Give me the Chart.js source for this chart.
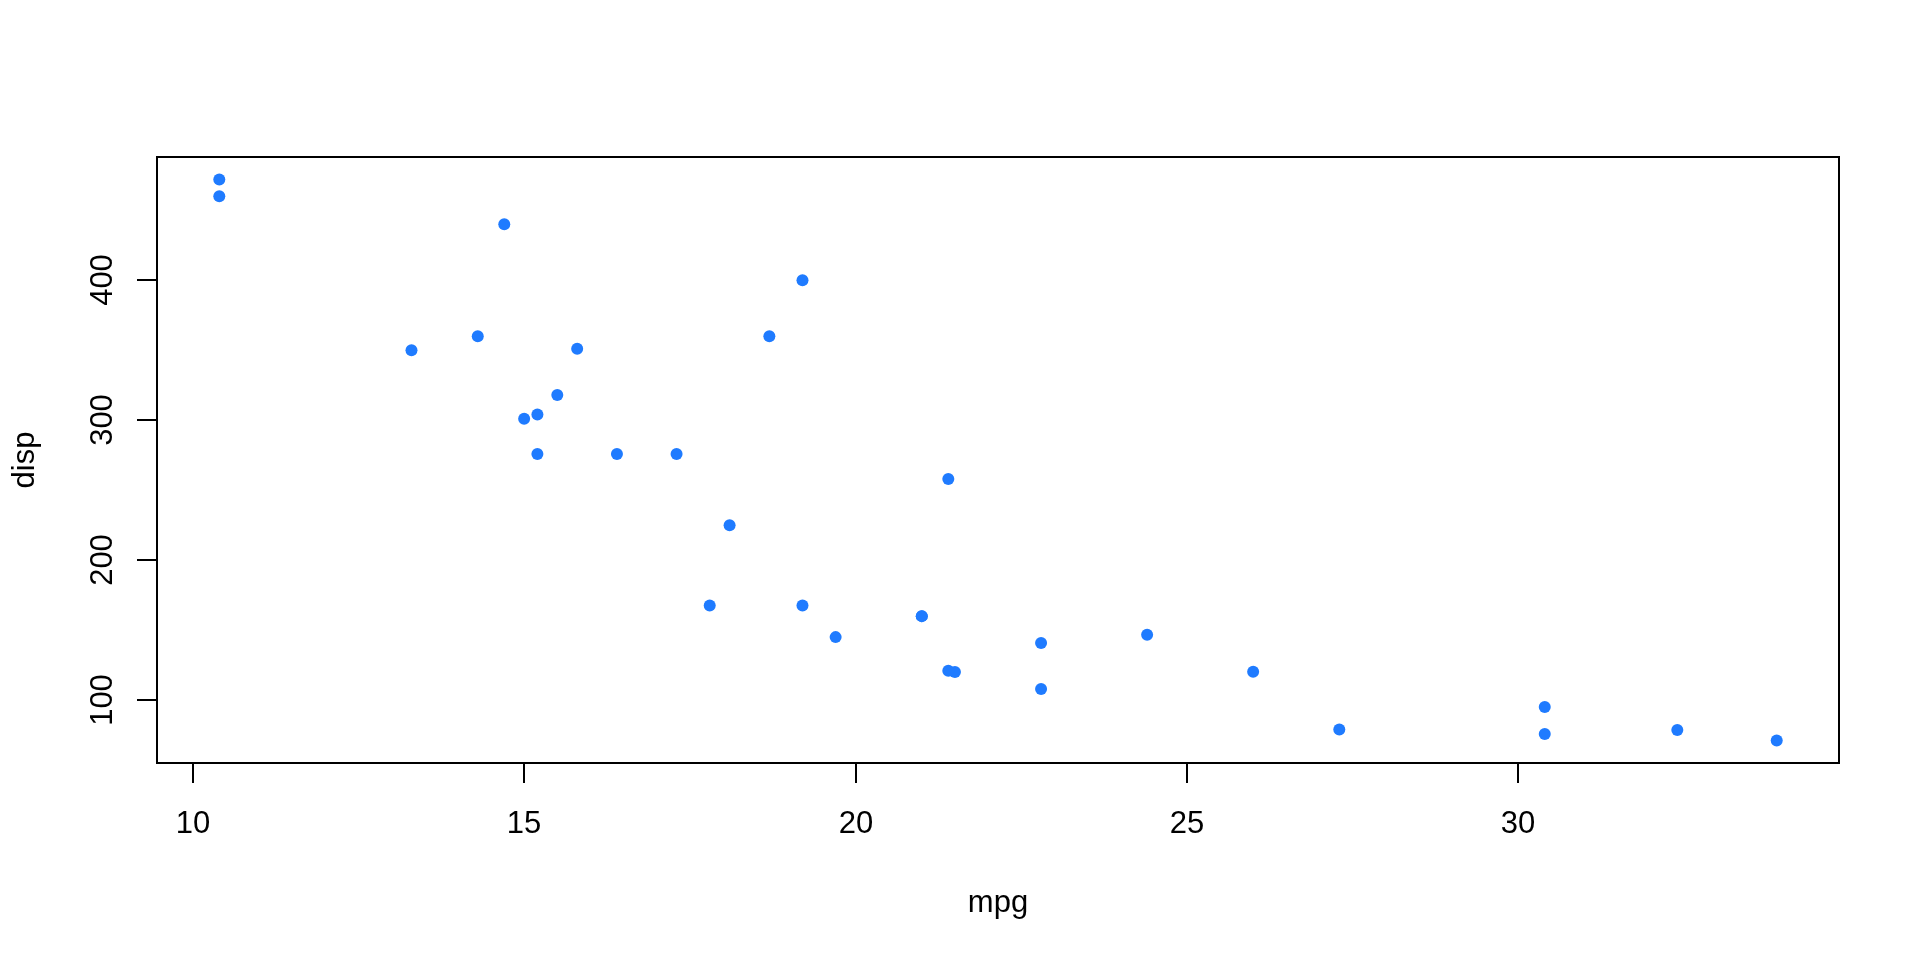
<!DOCTYPE html>
<html>
<head>
<meta charset="utf-8">
<title>mpg vs disp</title>
<script src="https://cdn.jsdelivr.net/npm/chart.js@4/dist/chart.umd.min.js"></script>
<style>
    html, body { margin: 0; padding: 0; background: #ffffff; }
    canvas { display: block; }
</style>
</head>
<body>
<canvas id="scatterChart" width="1920" height="960"></canvas>
<script>
// mtcars: miles per gallon and displacement
const mpg = [21.0, 21.0, 22.8, 21.4, 18.7, 18.1, 14.3, 24.4, 22.8, 19.2, 17.8, 16.4, 17.3, 15.2, 10.4, 10.4,
             14.7, 32.4, 30.4, 33.9, 21.5, 15.5, 15.2, 13.3, 19.2, 27.3, 26.0, 30.4, 15.8, 19.7, 15.0, 21.4];
const disp = [160, 160, 108, 258, 360, 225, 360, 146.7, 140.8, 167.6, 167.6, 275.8, 275.8, 275.8, 472, 460,
              440, 78.7, 75.7, 71.1, 120.1, 318, 304, 350, 400, 79, 120.3, 95.1, 351, 145, 301, 121];

const xTicks = [10, 15, 20, 25, 30];
const yTicks = [100, 200, 300, 400];
const xTitle = 'mpg';
const yTitle = 'disp';

// R style axis range: data range stretched by 4% on each side
function paddedRange(values) {
    const lo = Math.min(...values);
    const hi = Math.max(...values);
    const pad = (hi - lo) * 0.04;
    return [lo - pad, hi + pad];
}

const [xMin, xMax] = paddedRange(mpg);
const [yMin, yMax] = paddedRange(disp);

const points = mpg.map((m, i) => ({ x: m, y: disp[i] }));

const fontFamily = '"Liberation Sans", Arial, Helvetica, sans-serif';
const fontSize = 31;

// Draws the box, the outside ticks and the labels like base R graphics
const baseAxes = {
    id: 'baseAxes',
    afterDraw(chart) {
        const ctx = chart.ctx;
        const area = chart.chartArea;
        const xScale = chart.scales.x;
        const yScale = chart.scales.y;
        const tickLen = 20;

        ctx.save();
        ctx.strokeStyle = '#000000';
        ctx.fillStyle = '#000000';
        ctx.lineWidth = 2;

        // Box
        ctx.strokeRect(area.left, area.top, area.right - area.left, area.bottom - area.top);

        ctx.font = `${fontSize}px ${fontFamily}`;

        // X axis ticks and labels
        ctx.textAlign = 'center';
        ctx.textBaseline = 'alphabetic';
        xTicks.forEach(v => {
            const px = Math.round(xScale.getPixelForValue(v));
            ctx.beginPath();
            ctx.moveTo(px, area.bottom);
            ctx.lineTo(px, area.bottom + tickLen);
            ctx.stroke();
            ctx.fillText(String(v), px, 833);
        });

        // Y axis ticks and rotated labels
        yTicks.forEach(v => {
            const py = Math.round(yScale.getPixelForValue(v));
            ctx.beginPath();
            ctx.moveTo(area.left, py);
            ctx.lineTo(area.left - tickLen, py);
            ctx.stroke();
            ctx.save();
            ctx.translate(112, py);
            ctx.rotate(-Math.PI / 2);
            ctx.fillText(String(v), 0, 0);
            ctx.restore();
        });

        // Axis titles
        ctx.fillText(xTitle, (area.left + area.right) / 2, 912);
        ctx.save();
        ctx.translate(34, (area.top + area.bottom) / 2);
        ctx.rotate(-Math.PI / 2);
        ctx.fillText(yTitle, 0, 0);
        ctx.restore();

        ctx.restore();
    }
};

const ctx = document.getElementById('scatterChart').getContext('2d');
const chart = new Chart(ctx, {
    type: 'scatter',
    data: {
        datasets: [{
            label: 'disp',
            data: points,
            backgroundColor: '#1F7BFF',
            borderWidth: 0,
            pointRadius: 6,
            pointHoverRadius: 6
        }]
    },
    options: {
        responsive: false,
        animation: false,
        devicePixelRatio: 1,
        layout: {
            padding: { left: 157, top: 157, right: 81, bottom: 197 }
        },
        plugins: {
            legend: { display: false },
            tooltip: { enabled: false }
        },
        scales: {
            x: { type: 'linear', min: xMin, max: xMax, display: false },
            y: { type: 'linear', min: yMin, max: yMax, display: false }
        }
    },
    plugins: [baseAxes]
});
</script>
</body>
</html>
